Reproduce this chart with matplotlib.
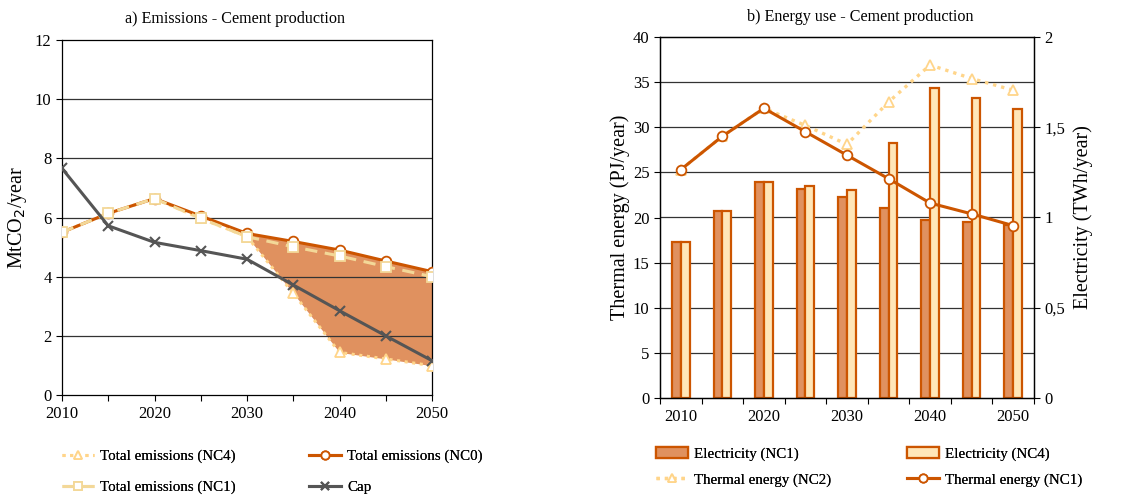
import matplotlib
matplotlib.use("Agg")
import matplotlib.pyplot as plt
import numpy as np

plt.rcParams['font.family'] = ['Liberation Serif', 'DejaVu Serif']

years = [2010, 2015, 2020, 2025, 2030, 2035, 2040, 2045, 2050]

# Emissions (MtCO2/year)
cap = [7.66, 5.72, 5.16, 4.88, 4.59, 3.72, 2.85, 2.00, 1.16]
em_nc0 = [5.50, 6.14, 6.64, 6.05, 5.46, 5.19, 4.90, 4.53, 4.17]
em_nc1 = [5.50, 6.14, 6.64, 5.97, 5.35, 5.01, 4.70, 4.34, 4.00]
em_nc4 = [5.50, 6.14, 6.64, 5.97, 5.35, 3.44, 1.44, 1.22, 0.99]

# Energy use
thermal_nc1 = [25.3, 29.0, 32.1, 29.5, 26.9, 24.3, 21.6, 20.4, 19.1]   # PJ/year
thermal_nc2 = [25.3, 29.0, 32.1, 30.2, 28.1, 32.8, 36.9, 35.4, 34.1]   # PJ/year
elec_nc1 = [0.864, 1.034, 1.197, 1.156, 1.115, 1.051, 0.988, 0.973, 0.958]  # TWh/year
elec_nc4 = [0.864, 1.034, 1.197, 1.174, 1.152, 1.413, 1.720, 1.660, 1.600]  # TWh/year

dark_or = '#CC5500'
salmon = '#E0915F'
pale = '#FFE6B8'
tri_col = '#FFD58A'
sq_col = '#F3D898'
grey = '#555555'

TICK = 12
fig = plt.figure(figsize=(11.37, 4.97), dpi=100)
W, H = 1137, 497


def box(l, t, r, b):
    return [l / W, 1 - b / H, (r - l) / W, (b - t) / H]


def add_column_legend(handles, labels, x, y, spacing):
    leg = fig.legend(handles, labels, loc='center left',
                     bbox_to_anchor=(x / W, 1 - y / H), ncol=1, frameon=False,
                     fontsize=10.8, handlelength=2.1, handletextpad=0.45,
                     labelspacing=spacing, borderpad=0, borderaxespad=0,
                     markerscale=0.85)
    fig.add_artist(leg)
    return leg


# ---------------- a) Emissions ----------------
ax1 = fig.add_axes(box(62, 40, 432, 395))
ax1.set_xlim(2010, 2050)
ax1.set_ylim(0, 12)
ax1.set_xticks(np.arange(2010, 2051, 5))
ax1.set_xticklabels([str(y) if y % 10 == 0 else '' for y in range(2010, 2051, 5)])
ax1.set_yticks(range(0, 13, 2))
for y in range(2, 12, 2):
    ax1.axhline(y, color='#333333', lw=0.9, zorder=1.5)
ax1.tick_params(axis='both', labelsize=TICK, direction='out', length=4, width=0.8)
ax1.tick_params(axis='x', pad=4)
for s in ax1.spines.values():
    s.set_linewidth(0.9)
    s.set_color('black')

yrs = np.array(years)
mask = yrs >= 2030
ax1.fill_between(yrs[mask], np.array(em_nc4)[mask], np.array(em_nc0)[mask],
                 color=salmon, lw=0, zorder=1)

l_nc4, = ax1.plot(years, em_nc4, ls=(0, (1, 1.5)), lw=2.2, color=tri_col,
                  marker='^', ms=7, mfc='white', mec=tri_col, mew=1.3, zorder=3)
l_nc0, = ax1.plot(years, em_nc0, ls='-', lw=2.2, color=dark_or,
                  marker='o', ms=7, mfc='white', mec=dark_or, mew=1.3, zorder=3)
l_nc1, = ax1.plot(years, em_nc1, ls=(0, (4, 2.5)), lw=2.2, color=sq_col,
                  marker='s', ms=7, mfc='white', mec=sq_col, mew=1.3, zorder=4)
l_cap, = ax1.plot(years, cap, ls='-', lw=2.2, color=grey,
                  marker='x', ms=7, mec=grey, mew=1.5, zorder=5)

ax1.set_ylabel('MtCO$_2$/year', fontsize=14.5, labelpad=4)
fig.text(235 / W, 1 - 19 / H, 'a) Emissions - Cement production',
         ha='center', va='center', fontsize=11.6)

add_column_legend([l_nc4, l_nc1], ['Total emissions (NC4)', 'Total emissions (NC1)'],
                  62, 472, 1.15)
add_column_legend([l_nc0, l_cap], ['Total emissions (NC0)', 'Cap'], 309, 472, 1.15)

# ---------------- b) Energy use ----------------
ax2 = fig.add_axes(box(660, 37, 1034, 398))
idx = np.arange(len(years))
ax2.set_xlim(-0.5, len(years) - 0.5)
ax2.set_ylim(0, 40)
ax2.set_yticks(range(0, 41, 5))
ax2.set_xticks(idx)
ax2.set_xticklabels([str(y) if y % 10 == 0 else '' for y in years])
ax2.set_xticks(np.arange(-0.5, len(years), 1), minor=True)
ax2.tick_params(axis='x', which='major', length=0, pad=8, labelsize=TICK)
ax2.tick_params(axis='x', which='minor', length=4, width=0.8, direction='out')
ax2.tick_params(axis='y', labelsize=TICK, direction='out', length=4, width=0.8)
for s in ax2.spines.values():
    s.set_linewidth(0.9)
    s.set_color('black')

ax3 = ax2.twinx()
ax3.set_ylim(0, 2)
ax3.set_yticks([0, 0.5, 1, 1.5, 2])
ax3.set_yticklabels(['0', '0,5', '1', '1,5', '2'])
ax3.tick_params(axis='y', labelsize=TICK, direction='out', length=4, width=0.8)
for s in ax3.spines.values():
    s.set_linewidth(0.9)

# gridlines (PJ scale 5..35) sit under the bars
for y in range(5, 40, 5):
    ax3.axhline(y / 20, color='#333333', lw=0.9, zorder=0.5)

bw = 0.21
b1 = ax3.bar(idx - bw / 2, elec_nc1, width=bw, color=salmon, edgecolor=dark_or,
             lw=1.6, zorder=2)
b4 = ax3.bar(idx + bw / 2, elec_nc4, width=bw, color=pale, edgecolor=dark_or,
             lw=1.6, zorder=2)

# thermal lines drawn on top of the bars
ax2.set_zorder(ax3.get_zorder() + 1)
ax2.patch.set_visible(False)
ax3.patch.set_visible(True)
ax3.patch.set_facecolor('white')

t2, = ax2.plot(idx, thermal_nc2, ls=(0, (1, 1.5)), lw=2.4, color=tri_col,
               marker='^', ms=7, mfc='white', mec=tri_col, mew=1.3, zorder=3)
t1, = ax2.plot(idx, thermal_nc1, ls='-', lw=2.2, color=dark_or,
               marker='o', ms=7, mfc='white', mec=dark_or, mew=1.3, zorder=4)

ax2.set_ylabel('Thermal energy (PJ/year)', fontsize=14.5, labelpad=2)
ax3.set_ylabel('Electricity (TWh/year)', fontsize=14.5, labelpad=6)
fig.text(860 / W, 1 - 17 / H, 'b) Energy use - Cement production',
         ha='center', va='center', fontsize=11.6)

add_column_legend([b1, t2], ['Electricity (NC1)', 'Thermal energy (NC2)'], 656, 467, 0.8)
add_column_legend([b4, t1], ['Electricity (NC4)', 'Thermal energy (NC1)'], 907, 467, 0.8)

fig.savefig('out.png', dpi=100)
